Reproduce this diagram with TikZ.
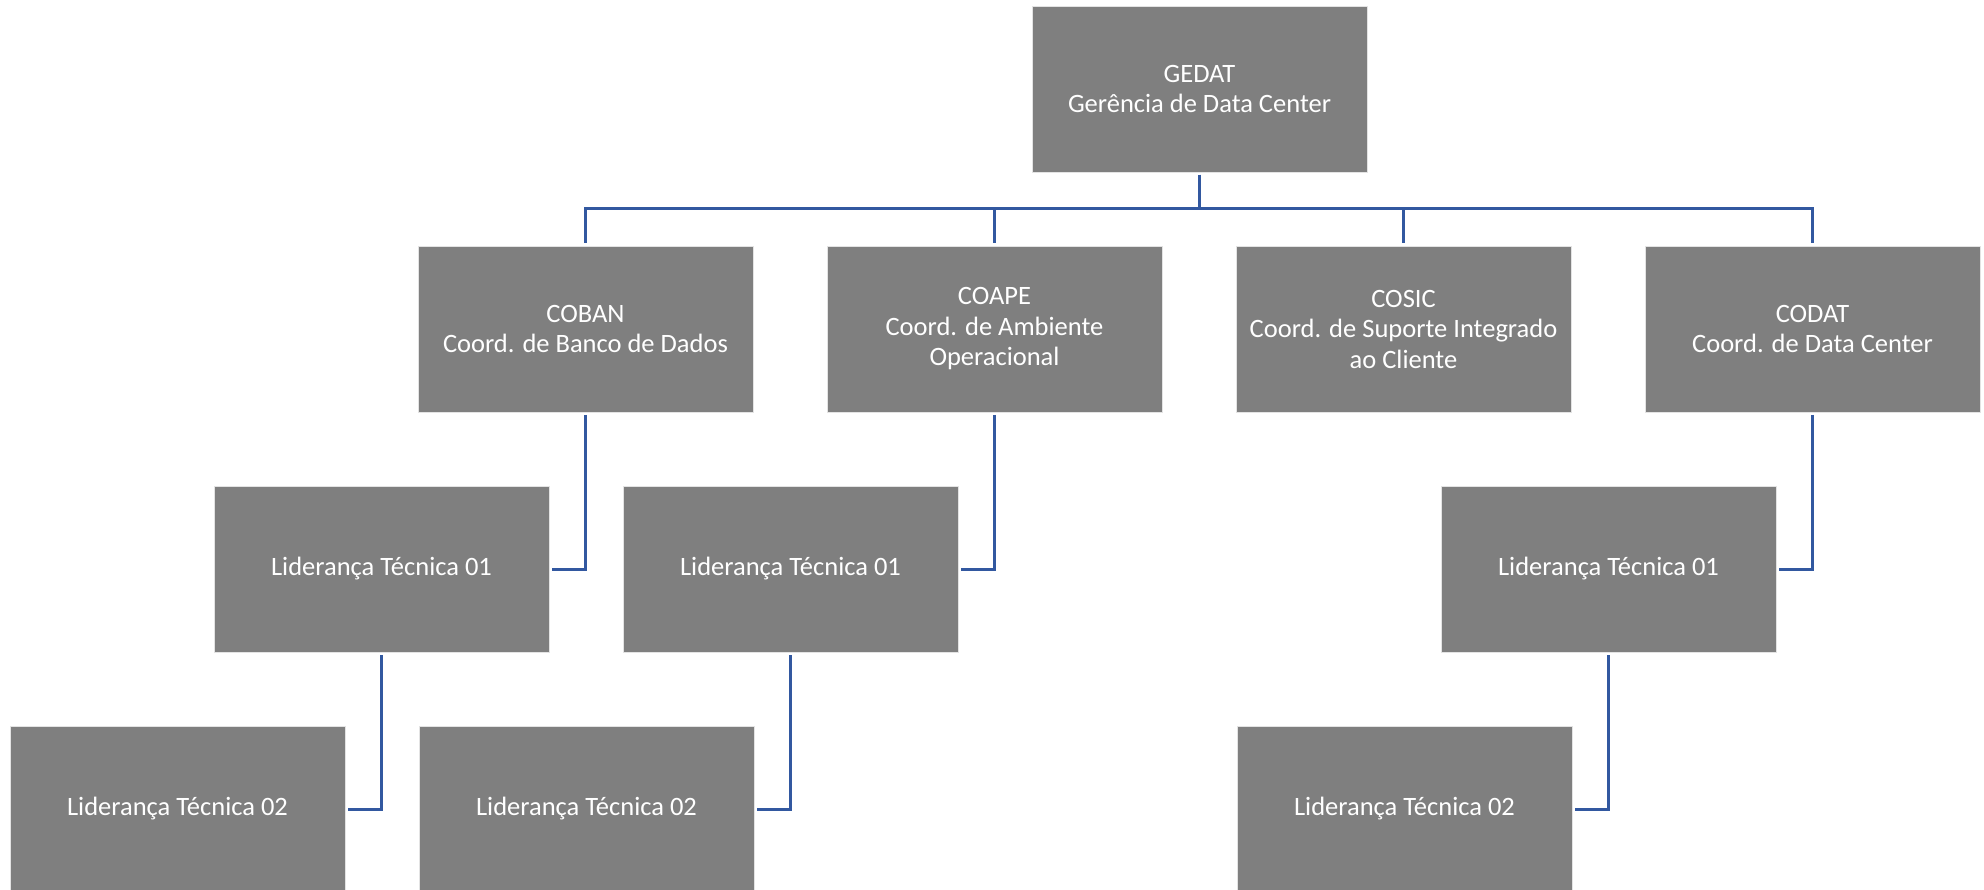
\documentclass[tikz,border=0pt]{standalone}
\usepackage{fontspec}
\setmainfont{Carlito}
\usepackage{xcolor}
\usetikzlibrary{positioning}
\definecolor{boxgray}{RGB}{127,127,127}
\definecolor{linkblue}{RGB}{50,88,160}
\tikzstyle{link} = [line width=3pt, draw=linkblue]

\begin{document}
\begin{tikzpicture}[x=1pt, y=1pt, node distance=240pt]
\tikzstyle{orgbox} = [rectangle, minimum width=335pt, minimum height=166pt, inner sep=0pt, outer sep=3pt, align=center, fill=boxgray, draw=white!78!gray, line width=0.8pt, text=white, font=\fontsize{26.5}{30.5}\selectfont]
\useasboundingbox (0,0) rectangle (1984,-890);

\node (gedat) [orgbox] at (1199.5,-89) {GEDAT\\Gerência de Data Center};
\node (coban) [orgbox, below of=gedat, xshift=-614pt] {COBAN\\Coord. de Banco de Dados};
\node (coape) [orgbox, below of=gedat, xshift=-205pt] {COAPE\\Coord. de Ambiente\\Operacional};
\node (cosic) [orgbox, below of=gedat, xshift=204pt] {COSIC\\Coord. de Suporte Integrado\\ao Cliente};
\node (codat) [orgbox, below of=gedat, xshift=613pt] {CODAT\\Coord. de Data Center};
\node (coban1) [orgbox, below of=coban, xshift=-204pt] {Liderança Técnica 01};
\node (coape1) [orgbox, below of=coape, xshift=-204pt] {Liderança Técnica 01};
\node (codat1) [orgbox, below of=codat, xshift=-204pt] {Liderança Técnica 01};
\node (coban2) [orgbox, below of=coban1, xshift=-204pt] {Liderança Técnica 02};
\node (coape2) [orgbox, below of=coape1, xshift=-204pt] {Liderança Técnica 02};
\node (codat2) [orgbox, below of=codat1, xshift=-204pt] {Liderança Técnica 02};

\draw [link] (gedat.south) -- ++(0,-34) -| (coban.north);
\draw [link] (gedat.south) -- ++(0,-34) -| (coape.north);
\draw [link] (gedat.south) -- ++(0,-34) -| (cosic.north);
\draw [link] (gedat.south) -- ++(0,-34) -| (codat.north);
\draw [link] (coban.south) |- (coban1.east);
\draw [link] (coape.south) |- (coape1.east);
\draw [link] (codat.south) |- (codat1.east);
\draw [link] (coban1.south) |- (coban2.east);
\draw [link] (coape1.south) |- (coape2.east);
\draw [link] (codat1.south) |- (codat2.east);

\end{tikzpicture}
\end{document}
